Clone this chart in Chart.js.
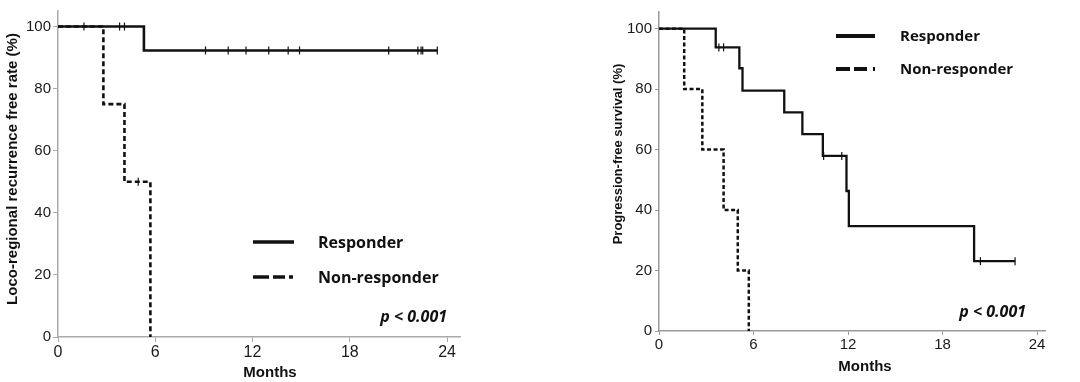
<!DOCTYPE html>
<html>
<head>
<meta charset="utf-8">
<script src="https://cdn.jsdelivr.net/npm/chart.js@4/dist/chart.umd.min.js"></script>
<style>
  html, body { margin: 0; padding: 0; background: #fff; }
  #wrap { position: relative; width: 1080px; height: 382px; overflow: hidden; }
  .panel { position: absolute; top: 0; width: 540px; height: 382px; }
  #left { left: 0; }
  #right { left: 540px; }
</style>
</head>
<body>
<div id="wrap">
  <div class="panel" id="left"><canvas id="lrChart" width="540" height="382"></canvas></div>
  <div class="panel" id="right"><canvas id="pfsChart" width="540" height="382"></canvas></div>
</div>
<script>
// tick labels
const monthTicks = [0, 6, 12, 18, 24];
const pctTicks = [0, 20, 40, 60, 80, 100];
const seriesNames = ['Responder', 'Non-responder'];

// Loco-regional recurrence free rate (left panel)
const lrRespT = [0, 5.3, 23.4];
const lrRespS = [100, 92.3, 92.3];
const lrRespCensT = [1.6, 3.8, 4.1, 9.1, 10.5, 11.6, 13.0, 14.2, 14.9, 20.4, 22.2, 22.4, 22.5, 23.4];
const lrRespCensS = [100, 100, 100, 92.3, 92.3, 92.3, 92.3, 92.3, 92.3, 92.3, 92.3, 92.3, 92.3, 92.3];
const lrNonT = [0, 2.8, 4.1, 5.7];
const lrNonS = [100, 75, 50, 0];
const lrNonCensT = [4.95];
const lrNonCensS = [50];

// Progression-free survival (right panel)
const pfsRespT = [0, 3.6, 5.1, 5.3, 7.95, 9.1, 10.4, 11.9, 12.05, 20.0, 22.6];
const pfsRespS = [100, 93.8, 86.9, 79.5, 72.3, 65.1, 57.9, 46.3, 34.7, 23.1, 23.1];
const pfsRespCensT = [3.8, 4.1, 10.45, 11.6, 20.4, 22.6];
const pfsRespCensS = [93.8, 93.8, 57.9, 57.9, 23.1, 23.1];
const pfsNonT = [0, 1.6, 2.75, 4.1, 5.0, 5.7];
const pfsNonS = [100, 80, 60, 40, 20, 0];

const ink = '#111';

function pts(t, s) {
    return t.map((v, i) => ({x: v, y: s[i]}));
}

function kmLine(t, s, width, dash) {
    return {
        type: 'line',
        data: pts(t, s),
        stepped: 'before',
        borderColor: ink,
        borderWidth: width,
        borderDash: dash,
        pointRadius: 0,
        fill: false
    };
}

function censMarks(t, s) {
    return {
        type: 'scatter',
        data: pts(t, s),
        showLine: false,
        pointStyle: 'line',
        rotation: 90,
        pointRadius: 4,
        pointBorderColor: ink,
        pointBorderWidth: 1.2
    };
}

// titles, legend and p value drawn on top of the plot
function extras(o) {
    return {
        id: 'extras',
        afterDraw(chart) {
            const ctx = chart.ctx;
            ctx.save();
            ctx.fillStyle = ink;
            ctx.strokeStyle = ink;
            ctx.textBaseline = 'middle';

            ctx.save();
            ctx.translate(o.yTitle.x, o.yTitle.y);
            ctx.rotate(-Math.PI / 2);
            ctx.font = o.yTitle.font;
            ctx.textAlign = 'center';
            ctx.fillText(o.yTitle.text, 0, 0);
            ctx.restore();

            ctx.font = o.xTitle.font;
            ctx.textAlign = 'center';
            ctx.fillText('Months', o.xTitle.x, o.xTitle.y);

            o.legend.forEach((item, i) => {
                ctx.lineWidth = o.legendWidth;
                ctx.setLineDash(i === 0 ? [] : o.legendDash);
                ctx.beginPath();
                ctx.moveTo(o.legendX0, item.y);
                ctx.lineTo(o.legendX1, item.y);
                ctx.stroke();
                ctx.setLineDash([]);
                ctx.font = o.legendFont;
                ctx.textAlign = 'left';
                ctx.fillText(seriesNames[i], o.legendTextX, item.y + 1);
            });

            ctx.font = o.pFont;
            ctx.textAlign = 'right';
            ctx.fillText('p < 0.001', o.pX, o.pY);
            ctx.restore();
        }
    };
}

function axes(xMax, yMax, yWidth, xHeight, axisColor, xFont, yFont, tickLen, yPad) {
    return {
        x: {
            type: 'linear',
            min: 0,
            max: xMax,
            afterBuildTicks: s => { s.ticks = monthTicks.map(v => ({value: v})); },
            afterFit: s => { s.height = xHeight; },
            ticks: { color: '#1a1a1a', font: { family: 'Liberation Sans', size: xFont }, padding: 1, maxRotation: 0 },
            grid: { drawOnChartArea: false, drawTicks: true, tickLength: tickLen, color: axisColor },
            border: { color: axisColor, width: 1.5 }
        },
        y: {
            type: 'linear',
            min: 0,
            max: yMax,
            afterBuildTicks: s => { s.ticks = pctTicks.map(v => ({value: v})); },
            afterFit: s => { s.width = yWidth; },
            ticks: { color: '#1a1a1a', font: { family: 'Liberation Sans', size: yFont }, padding: yPad },
            grid: { drawOnChartArea: false, drawTicks: true, tickLength: tickLen, color: axisColor },
            border: { color: axisColor, width: 1.5 }
        }
    };
}

Chart.defaults.animation = false;
Chart.defaults.events = [];

new Chart(document.getElementById('lrChart'), {
    type: 'line',
    data: {
        datasets: [
            kmLine(lrRespT, lrRespS, 2.6, []),
            kmLine(lrNonT, lrNonS, 2.6, [5, 3]),
            censMarks(lrRespCensT, lrRespCensS),
            censMarks(lrNonCensT, lrNonCensS)
        ]
    },
    options: {
        responsive: false,
        layout: { padding: { left: 0, top: 2, right: 80, bottom: 0 } },
        plugins: { legend: { display: false }, tooltip: { enabled: false } },
        scales: axes(24.8, 105, 58, 45, '#aaa', 16, 15, 5, 2)
    },
    plugins: [extras({
        yTitle: { text: 'Loco-regional recurrence free rate (%)', x: 13, y: 169, font: 'bold 15px "Liberation Sans"' },
        xTitle: { x: 270, y: 373, font: 'bold 15px "Liberation Sans"' },
        legend: [{ y: 242 }, { y: 277 }],
        legendX0: 253, legendX1: 294, legendTextX: 318,
        legendWidth: 3.5, legendDash: [16, 4, 12, 4, 4, 60],
        legendFont: 'bold 16px "Open Sans"',
        pFont: 'italic bold 16px "Open Sans"', pX: 447, pY: 317
    })]
});

new Chart(document.getElementById('pfsChart'), {
    type: 'line',
    data: {
        datasets: [
            kmLine(pfsRespT, pfsRespS, 2.3, []),
            kmLine(pfsNonT, pfsNonS, 2.5, [4, 2.5]),
            censMarks(pfsRespCensT, pfsRespCensS)
        ]
    },
    options: {
        responsive: false,
        layout: { padding: { left: 0, top: 5, right: 35, bottom: 0 } },
        plugins: { legend: { display: false }, tooltip: { enabled: false } },
        scales: axes(24.5, 105.5, 119, 51, '#999', 15, 15, 4, 3)
    },
    plugins: [extras({
        yTitle: { text: 'Progression-free survival (%)', x: 78, y: 154, font: 'bold 13px "Liberation Sans"' },
        xTitle: { x: 325, y: 367, font: 'bold 15px "Liberation Sans"' },
        legend: [{ y: 36 }, { y: 69 }],
        legendX0: 296, legendX1: 335, legendTextX: 360,
        legendWidth: 4, legendDash: [14, 4, 13, 6, 2, 60],
        legendFont: 'bold 15px "Open Sans"',
        pFont: 'italic bold 16px "Open Sans"', pX: 486, pY: 312
    })]
});
</script>
</body>
</html>
